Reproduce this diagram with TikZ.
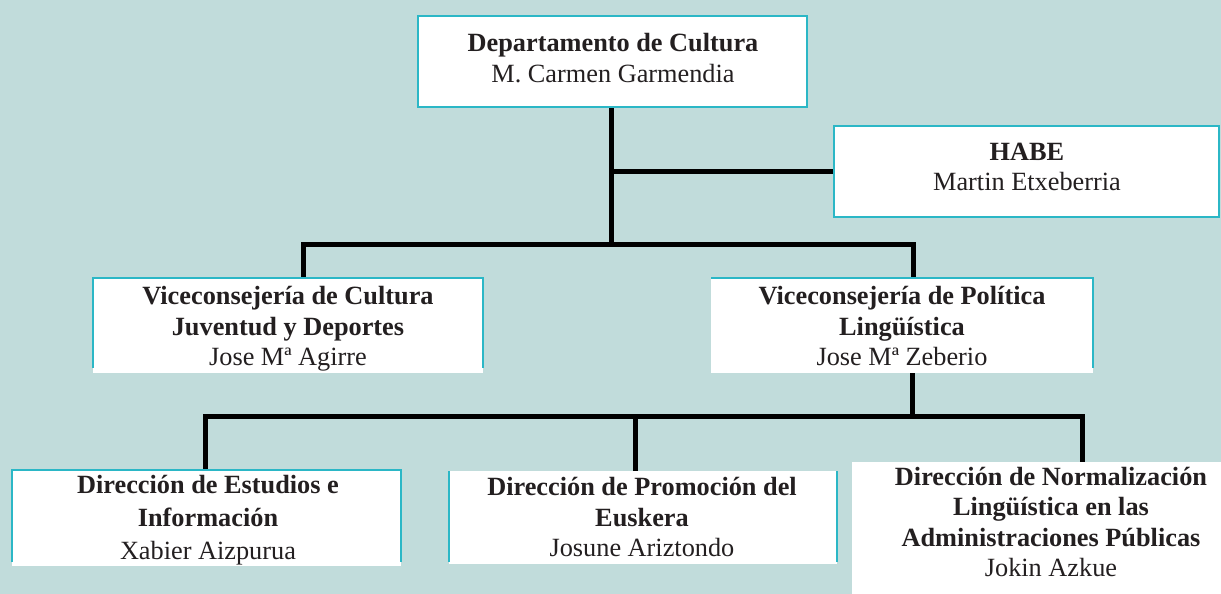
\documentclass[tikz,border=0pt]{standalone}
\usepackage{fontspec}
\setmainfont{Liberation Serif}
\definecolor{bg}{HTML}{C1DCDB}
\definecolor{tealb}{HTML}{2BB7C6}
\definecolor{ink}{HTML}{231F20}
\begin{document}
\begin{tikzpicture}[x=1pt,y=-1pt,
  wbox/.style={fill=white, draw=none, inner sep=0pt, anchor=north west, outer sep=0pt},
  tline/.style={draw=tealb, line width=2.2pt},
  conn/.style={draw=black, line width=5pt, line join=miter},
  txt/.style={align=center, text=ink, inner sep=0pt, font=\fontsize{26.3}{30.5}\selectfont}]
\fill[bg] (0,0) rectangle (1221,594);
\useasboundingbox (0,0) rectangle (1221,594);
% boxes (white areas)
\node[wbox, minimum width=389pt, minimum height=91pt] (top) at (418,16) {};
\node[wbox, minimum width=385pt, minimum height=91pt] (habe) at (834,126) {};
\node[wbox, minimum width=390pt, minimum height=95pt] (vc) at (93,278) {};
\node[wbox, minimum width=382pt, minimum height=95pt] (vp) at (711,278) {};
\node[wbox, minimum width=389pt, minimum height=96pt] (d1) at (12,470) {};
\node[wbox, minimum width=388pt, minimum height=93pt] (d2) at (449,471) {};
\node[wbox, minimum width=369pt, minimum height=132pt] (d3) at (852,462) {};
% connector points
\coordinate (bL) at (303,244);
\coordinate (bR) at (913,244);
\coordinate (cV) at (912,416);
\coordinate (cL) at (205,416);
\coordinate (cM) at (635,416);
\coordinate (cR) at (1082,416);
% connectors
\draw[conn] ([xshift=-1.5pt]top.south) -- ([xshift=-1.5pt]top.south |- bL);
\draw[conn] ([xshift=-1.5pt]top.south |- habe.west) -- (habe.west);
\draw[conn] (bL |- vc.north) -- (bL) -- (bR) -- (bR |- vp.north);
\draw[conn] (cV |- vp.south) -- (cV);
\draw[conn] (cL |- d1.north) -- (cL) -- (cR) -- (cR |- d3.north);
\draw[conn] (cM) -- (cM |- d2.north);
% teal borders
\draw[tline] (top.north west) rectangle (top.south east);
\draw[tline] (habe.north west) rectangle (habe.south east);
\draw[tline] ([yshift=5pt]vc.south west) |- (vc.north east) -- ([yshift=5pt]vc.south east);
\draw[tline] (vp.north west) -- (vp.north east) -- ([yshift=5pt]vp.south east);
\draw[tline] ([yshift=4pt]d1.south west) |- (d1.north east) -- ([yshift=4pt]d1.south east);
\draw[tline] (d2.north west) -- ([yshift=2pt]d2.south west);
\draw[tline] (d2.north east) -- ([yshift=2pt]d2.south east);
% texts
\node[txt] (topt) at (613,58) {\textbf{Departamento de Cultura}\\M. Carmen Garmendia};
\node[txt] (habet) at (1027,167) {\textbf{HABE}\\Martin Etxeberria};
\node[txt] (vct) at (288,329) {\textbf{Viceconsejería de Cultura}\\\textbf{Juventud y Deportes}\\Jose Mª Agirre};
\node[txt] (vpt) at (902,326) {\textbf{Viceconsejería de Política}\\\textbf{Lingüística}\\Jose Mª Zeberio};
\node[txt, font=\fontsize{26.3}{33}\selectfont] (d1t) at (208,520) {\textbf{Dirección de Estudios e}\\\textbf{Información}\\Xabier Aizpurua};
\node[txt] (d2t) at (642,517) {\textbf{Dirección de Promoción del}\\\textbf{Euskera}\\Josune Ariztondo};
\node[txt] (d3t) at (1051,522) {\textbf{Dirección de Normalización}\\\textbf{Lingüística en las}\\\textbf{Administraciones Públicas}\\Jokin Azkue};
\end{tikzpicture}
\end{document}
